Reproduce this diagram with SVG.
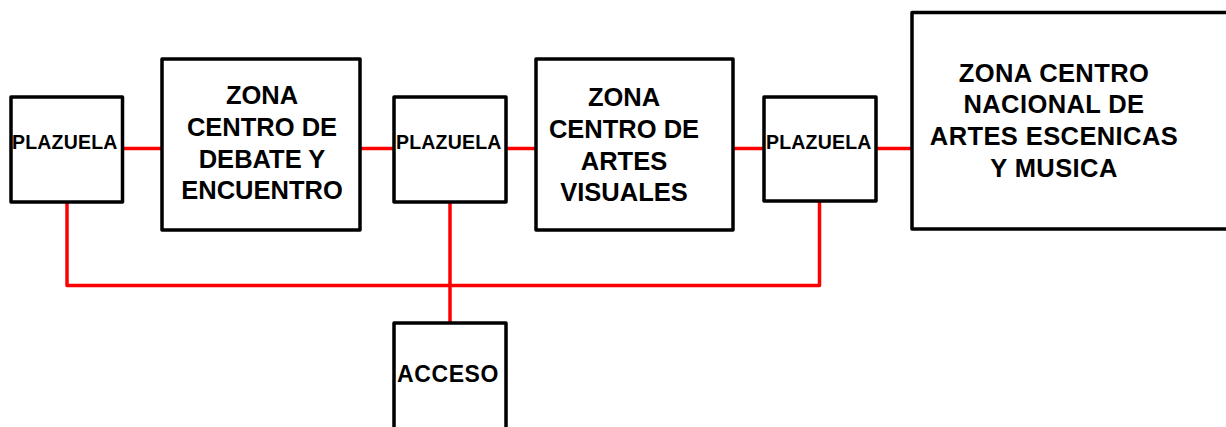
<svg xmlns="http://www.w3.org/2000/svg" width="1226" height="427" viewBox="0 0 1226 427">
<style>
.box{fill:#fff;stroke:#000;stroke-width:3.5;stroke-linejoin:round}
.conn{fill:none;stroke:#ff0000;stroke-width:3.5;stroke-linejoin:round}
.t{font-family:"Liberation Sans",Arial,sans-serif;font-weight:bold;fill:#000}
.z{font-size:25.5px;text-anchor:middle}
.p{font-size:19.5px;letter-spacing:0.2px}
.a{font-size:23px;letter-spacing:0.6px}
</style>
<rect width="1226" height="427" fill="#fff"/>
<g id="connectors">
<line class="conn" x1="122" y1="148.5" x2="162" y2="148.5"/>
<line class="conn" x1="360" y1="148.5" x2="394" y2="148.5"/>
<line class="conn" x1="506" y1="148.5" x2="536" y2="148.5"/>
<line class="conn" x1="733" y1="148.5" x2="764" y2="148.5"/>
<line class="conn" x1="876" y1="148.5" x2="912" y2="148.5"/>
<polyline class="conn" points="67,202 67,285.5 819.5,285.5 819.5,201"/>
<line class="conn" x1="450" y1="202" x2="450" y2="323"/>
</g>
<g id="plazuela1">
<rect class="box" x="11" y="97" width="111.5" height="105"/>
<text class="t p" x="12" y="148.5">PLAZUELA</text>
</g>
<g id="zona-debate">
<rect class="box" x="162" y="59" width="198" height="171"/>
<text class="t z" x="262" y="103.5">ZONA</text>
<text class="t z" x="262" y="135.5">CENTRO DE</text>
<text class="t z" x="262" y="167.5">DEBATE Y</text>
<text class="t z" x="262" y="199">ENCUENTRO</text>
</g>
<g id="plazuela2">
<rect class="box" x="394" y="97" width="112" height="105"/>
<text class="t p" x="396" y="148.5">PLAZUELA</text>
</g>
<g id="zona-artes-visuales">
<rect class="box" x="536" y="59" width="197" height="171"/>
<text class="t z" x="624" y="106">ZONA</text>
<text class="t z" x="624" y="138">CENTRO DE</text>
<text class="t z" x="624" y="170">ARTES</text>
<text class="t z" x="624" y="201">VISUALES</text>
</g>
<g id="plazuela3">
<rect class="box" x="764" y="97" width="112" height="104"/>
<text class="t p" x="766" y="148.5">PLAZUELA</text>
</g>
<g id="zona-artes-escenicas">
<rect class="box" x="912" y="12.5" width="320" height="216.5"/>
<text class="t z" x="1054" y="82" style="letter-spacing:0.4px">ZONA CENTRO</text>
<text class="t z" x="1054" y="113" style="letter-spacing:0.4px">NACIONAL DE</text>
<text class="t z" x="1054" y="145" style="letter-spacing:0.4px">ARTES ESCENICAS</text>
<text class="t z" x="1054" y="177" style="letter-spacing:0.4px">Y MUSICA</text>
</g>
<g id="acceso">
<rect class="box" x="394" y="323" width="112" height="120"/>
<text class="t a" x="397" y="381.5">ACCESO</text>
</g>
</svg>
